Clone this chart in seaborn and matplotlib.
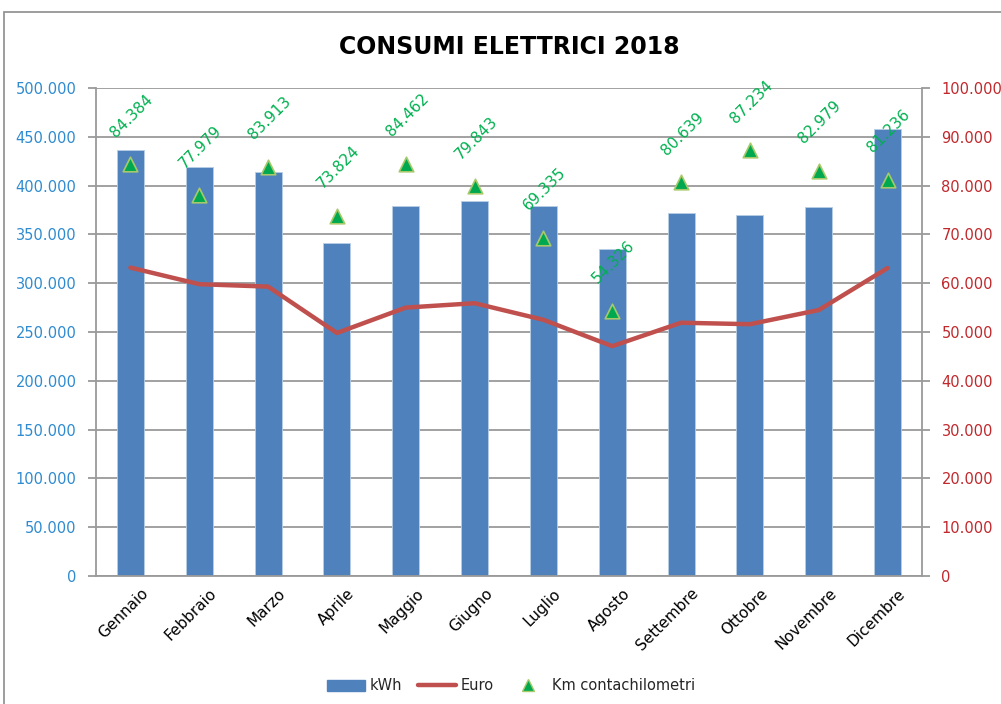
import matplotlib
matplotlib.use("Agg")
import matplotlib.pyplot as plt
import matplotlib.transforms as mtransforms
import seaborn as sns
import pandas as pd
from matplotlib.ticker import FuncFormatter, MultipleLocator
from matplotlib.patches import Rectangle, Patch
from matplotlib.lines import Line2D

mesi = ["Gennaio", "Febbraio", "Marzo", "Aprile", "Maggio", "Giugno",
        "Luglio", "Agosto", "Settembre", "Ottobre", "Novembre", "Dicembre"]
kwh = [436200, 418800, 414400, 341200, 379200, 383900,
       379200, 335400, 372300, 370300, 378500, 458500]
euro = [63200, 59800, 59300, 49800, 55000, 55900,
        52500, 47100, 51900, 51600, 54500, 63100]
km = [84384, 77979, 83913, 73824, 84462, 79843,
      69335, 54326, 80639, 87234, 82979, 81236]

df = pd.DataFrame({"Mese": mesi, "kWh": kwh, "Euro": euro, "Km": km})

sns.set_style("white")
plt.rcParams["font.family"] = ["DejaVu Sans"]

fig = plt.figure(figsize=(10.01, 7.04), dpi=100)
ax = fig.add_axes([96/1001, 1-576/704, (922-96)/1001, (576-88)/704])
ax2 = ax.twinx()

bar_c = "#4F81BD"
line_c = "#C0504D"
grid_c = "#9A9A9A"

sns.barplot(data=df, x="Mese", y="kWh", ax=ax, color=bar_c, width=0.39,
            saturation=1, edgecolor="#B9CDE5", linewidth=0.6, zorder=2)
ax.set_xlim(-0.5, 11.5)
ax.set_ylim(0, 500000)
ax.yaxis.set_major_locator(MultipleLocator(50000))
fmt = FuncFormatter(lambda v, p: f"{int(round(v)):,}".replace(",", "."))
ax.yaxis.set_major_formatter(fmt)
ax.yaxis.grid(True, color=grid_c, linewidth=1.3, zorder=0)
ax.set_axisbelow(True)
ax.set_xlabel("")
ax.set_ylabel("")

sns.lineplot(data=df, x="Mese", y="Euro", ax=ax2, sort=False, color=line_c,
             linewidth=3.2, zorder=3, legend=False)
sns.scatterplot(data=df, x="Mese", y="Km", ax=ax2, marker="^", s=110,
                color="#00A94F", edgecolor="#A8C96A", linewidth=1.2, zorder=4,
                legend=False)
ax2.set_ylim(0, 100000)
ax2.yaxis.set_major_locator(MultipleLocator(10000))
ax2.yaxis.set_major_formatter(fmt)
ax2.set_ylabel("")

for i, v in enumerate(km):
    ax2.annotate(f"{v:,}".replace(",", "."), (i, v), xytext=(1, 35),
                 textcoords="offset points", ha="center", va="center",
                 rotation=45, color="#00B050", fontsize=11, zorder=5)

for a in (ax, ax2):
    for s in a.spines.values():
        s.set_visible(False)
ax.spines["left"].set_visible(True)
ax.spines["left"].set_color(grid_c)
ax.spines["left"].set_linewidth(1.3)
ax.spines["bottom"].set_visible(True)
ax.spines["bottom"].set_color(grid_c)
ax.spines["bottom"].set_linewidth(1.3)
ax2.spines["right"].set_visible(True)
ax2.spines["right"].set_color(grid_c)
ax2.spines["right"].set_linewidth(1.3)

ax.tick_params(axis="y", which="major", direction="out", length=6, width=1.3,
               color=grid_c, labelcolor="#2E8BD0", labelsize=10.5, pad=8, left=True)
ax2.tick_params(axis="y", which="major", direction="out", length=6, width=1.3,
                color=grid_c, labelcolor="#C0282C", labelsize=10.5, pad=8, right=True)
ax.tick_params(axis="x", length=0, labelsize=11, labelcolor="#000000", pad=7)
shift = mtransforms.ScaledTranslation(10/100, 0, fig.dpi_scale_trans)
for lbl in ax.get_xticklabels():
    lbl.set_rotation(45)
    lbl.set_ha("right")
    lbl.set_rotation_mode("anchor")
    lbl.set_transform(lbl.get_transform() + shift)

fig.text(509/1001, 1-47/704, "CONSUMI ELETTRICI 2018", ha="center", va="center",
         fontsize=17, fontweight="bold", color="#000000")

handles = [Patch(facecolor=bar_c, edgecolor=bar_c),
           Line2D([0], [0], color=line_c, linewidth=3.2),
           Line2D([0], [0], marker="^", linestyle="none", markersize=8,
                  markerfacecolor="#00A94F", markeredgecolor="#A8C96A")]
fig.legend(handles, ["kWh", "Euro", "Km contachilometri"], loc="center",
           bbox_to_anchor=(511/1001, 1-686/704), ncol=3, frameon=False,
           fontsize=10.5, handlelength=2.6, columnspacing=1.1, handletextpad=0.3)

fig.patches.append(Rectangle((4/1001, -0.01), 1.0, 1-12/704+0.01,
                             transform=fig.transFigure, fill=False,
                             edgecolor="#8C8C8C", linewidth=1.2, zorder=0))

fig.savefig("out.png", dpi=100)
